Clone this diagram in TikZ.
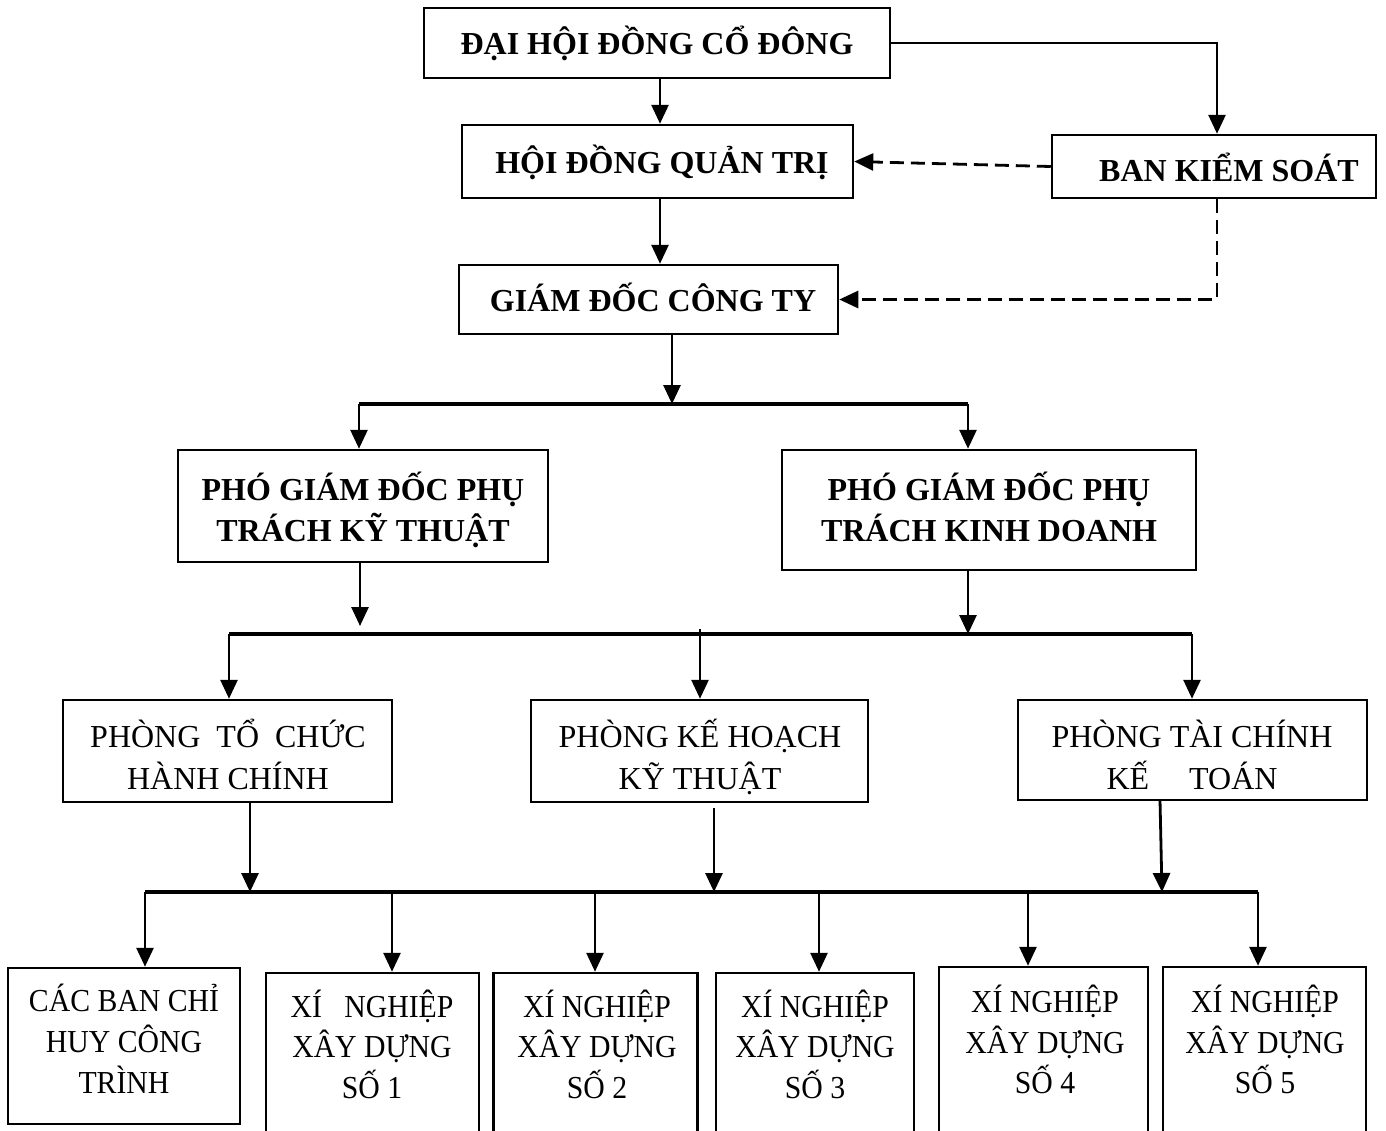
\documentclass[tikz,border=0pt]{standalone}
\usepackage{fontspec}
\usepackage{graphicx}
\setmainfont{Liberation Serif}
\usetikzlibrary{arrows.meta}
\newcommand{\narrow}[1]{\scalebox{0.93}[1]{#1}}
\begin{document}
\begin{tikzpicture}[x=1pt,y=-1pt,
  box/.style={draw, line width=2.5pt, inner sep=0pt},
  lbl/.style={font=\fontsize{32}{42}\selectfont, inner sep=0pt, anchor=base},
  blbl/.style={font=\fontsize{32}{42}\selectfont\bfseries, inner sep=0pt, anchor=base},
  conn/.style={line width=2.8pt},
  bus/.style={line width=3.2pt},
  arr/.style={conn, -{Triangle[width=17pt,length=19pt]}},
  darr/.style={arr, dash pattern=on 14pt off 7pt},
]
\clip (0,0) rectangle (1386,1130);
\fill[white] (0,0) rectangle (1386,1130);

% boxes
\node[box, minimum width=466pt, minimum height=70pt] (dhcd) at (657,43) {};
\node[box, minimum width=391pt, minimum height=73pt] (hdqt) at (657.5,161.5) {};
\node[box, minimum width=324pt, minimum height=63pt] (bks) at (1214,166.5) {};
\node[box, minimum width=379pt, minimum height=69pt] (gd) at (648.5,299.5) {};
\node[box, minimum width=370pt, minimum height=112pt] (pkt) at (363,506) {};
\node[box, minimum width=414pt, minimum height=120pt] (pkd) at (989,510) {};
\node[box, minimum width=329pt, minimum height=102pt] (ptchc) at (227.5,751) {};
\node[box, minimum width=337pt, minimum height=102pt] (pkhkt) at (699.5,751) {};
\node[box, minimum width=349pt, minimum height=100pt] (ptckt) at (1192.5,750) {};
\node[box, minimum width=232pt, minimum height=156pt] (cacban) at (124,1046) {};
\node[box, minimum width=213pt, minimum height=170pt] (xn1) at (372.5,1058) {};
\node[box, minimum width=204pt, minimum height=170pt] (xn2) at (595.5,1058) {};
\node[box, minimum width=198pt, minimum height=170pt] (xn3) at (815,1058) {};
\node[box, minimum width=209pt, minimum height=176pt] (xn4) at (1043.5,1055) {};
\node[box, minimum width=203pt, minimum height=176pt] (xn5) at (1264.5,1055) {};

% texts
\node[blbl] (t1) at (657,54) {ĐẠI HỘI ĐỒNG CỔ ĐÔNG};
\node[blbl] (t2) at (662,173) {HỘI ĐỒNG QUẢN TRỊ};
\node[blbl] (t3) at (1229,181) {BAN KIỂM SOÁT};
\node[blbl] (t4) at (653,311) {GIÁM ĐỐC CÔNG TY};
\node[blbl] (t5a) at (363,500) {PHÓ GIÁM ĐỐC PHỤ};
\node[blbl] (t5b) at (363,541) {TRÁCH KỸ THUẬT};
\node[blbl] (t6a) at (989,500) {PHÓ GIÁM ĐỐC PHỤ};
\node[blbl] (t6b) at (989,541) {TRÁCH KINH DOANH};
\node[lbl] (t7a) at (228,747) {PHÒNG~ TỔ~ CHỨC};
\node[lbl] (t7b) at (228,789) {HÀNH CHÍNH};
\node[lbl] (t8a) at (700,747) {PHÒNG KẾ HOẠCH};
\node[lbl] (t8b) at (700,789) {KỸ THUẬT};
\node[lbl] (t9a) at (1192,747) {PHÒNG TÀI CHÍNH};
\node[lbl] (t9b) at (1192,789) {KẾ~~~~ TOÁN};
\node[lbl] (t10a) at (124,1011) {\narrow{CÁC BAN CHỈ}};
\node[lbl] (t10b) at (124,1052) {\narrow{HUY CÔNG}};
\node[lbl] (t10c) at (124,1093) {\narrow{TRÌNH}};
\node[lbl] (t11a) at (372,1017) {\narrow{XÍ~~ NGHIỆP}};
\node[lbl] (t11b) at (372,1057) {\narrow{XÂY DỰNG}};
\node[lbl] (t11c) at (372,1098) {\narrow{SỐ 1}};
\node[lbl] (t12a) at (597,1017) {\narrow{XÍ NGHIỆP}};
\node[lbl] (t12b) at (597,1057) {\narrow{XÂY DỰNG}};
\node[lbl] (t12c) at (597,1098) {\narrow{SỐ 2}};
\node[lbl] (t13a) at (815,1017) {\narrow{XÍ NGHIỆP}};
\node[lbl] (t13b) at (815,1057) {\narrow{XÂY DỰNG}};
\node[lbl] (t13c) at (815,1098) {\narrow{SỐ 3}};
\node[lbl] (t14a) at (1045,1012) {\narrow{XÍ NGHIỆP}};
\node[lbl] (t14b) at (1045,1053) {\narrow{XÂY DỰNG}};
\node[lbl] (t14c) at (1045,1093) {\narrow{SỐ 4}};
\node[lbl] (t15a) at (1265,1012) {\narrow{XÍ NGHIỆP}};
\node[lbl] (t15b) at (1265,1053) {\narrow{XÂY DỰNG}};
\node[lbl] (t15c) at (1265,1093) {\narrow{SỐ 5}};

% junction coordinates
\coordinate (j1) at (672,404);
\coordinate (j1l) at (359,404);
\coordinate (j1r) at (968,404);
\coordinate (j2l) at (229,634);
\coordinate (j2r) at (1192,634);
\coordinate (j2t) at (700,629);
\coordinate (j2a) at (360,626);
\coordinate (j2b) at (968,634);
\coordinate (j3l) at (145,892);
\coordinate (j3r) at (1258,892);
\coordinate (s3a) at (250,802);
\coordinate (s3b) at (714,808);
\coordinate (s3c) at (1160,800);
\coordinate (e3a) at (250,892);
\coordinate (e3b) at (714,892);
\coordinate (e3c) at (1162,892);
\coordinate (d1) at (392,892);
\coordinate (d2) at (595,892);
\coordinate (d3) at (819,892);
\coordinate (d4) at (1028,892);

% connectors
\draw[arr] (dhcd.south -| 660,0) -- (hdqt.north -| 660,0);
\draw[arr] (dhcd.east) -| (bks.north -| 1217,0);
\draw[darr] (bks.west) -- (hdqt.east);
\draw[arr] (hdqt.south -| 660,0) -- (gd.north -| 660,0);
\draw[darr] (bks.south -| 1217,0) |- (gd.east);
\draw[bus] (j1l) -- (j1r);
\draw[arr] (gd.south -| j1) -- (j1);
\draw[arr] (j1l) -- (j1l |- pkt.north);
\draw[arr] (j1r) -- (j1r |- pkd.north);
\draw[bus] (j2l) -- (j2r);
\draw[arr] (pkt.south -| j2a) -- (j2a);
\draw[arr] (pkd.south -| j2b) -- (j2b);
\draw[arr] (j2l) -- (j2l |- ptchc.north);
\draw[arr] (j2t) -- (j2t |- pkhkt.north);
\draw[arr] (j2r) -- (j2r |- ptckt.north);
\draw[bus] (j3l) -- (j3r);
\draw[arr] (s3a) -- (e3a);
\draw[arr] (s3b) -- (e3b);
\draw[arr] (s3c) -- (e3c);
\draw[arr] (j3l) -- (j3l |- cacban.north);
\draw[arr] (d1) -- (d1 |- xn1.north);
\draw[arr] (d2) -- (d2 |- xn2.north);
\draw[arr] (d3) -- (d3 |- xn3.north);
\draw[arr] (d4) -- (d4 |- xn4.north);
\draw[arr] (j3r) -- (j3r |- xn5.north);
\end{tikzpicture}
\end{document}
